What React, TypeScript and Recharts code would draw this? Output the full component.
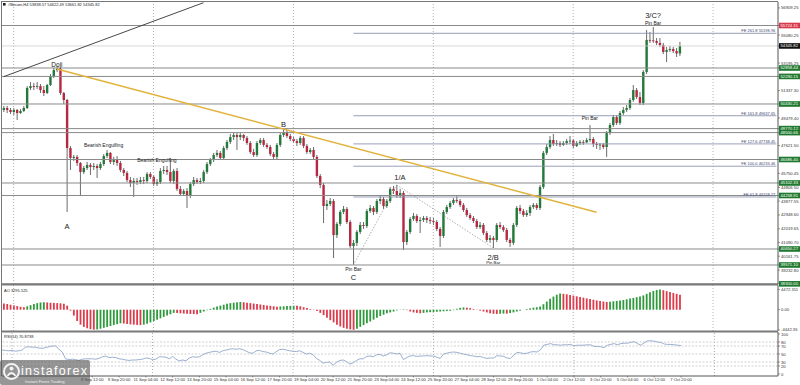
import React from 'react';
import { ComposedChart, Bar, Line, XAxis, YAxis, ReferenceLine, ReferenceDot, Cell } from 'recharts';

const FONT = "'Liberation Sans', Arial, sans-serif";

// ---------- price data (H4 candles) ----------
const opens = [50030,50160,50030,49890,50030,49820,49960,50160,51510,51640,51580,51640,51370,51170,51710,52320,52720,52790,51170,50700,
47460,46790,46860,46450,45840,46110,46320,46180,46250,46110,46380,46920,47130,46520,46650,46450,45980,45780,45300,45100,
45240,45170,45300,45240,45710,45510,45030,45170,45910,45980,45840,45240,45910,44700,44360,44560,44230,45030,45300,45170,
45240,45840,46380,46650,46990,47130,46790,47460,47870,48200,48340,48200,48340,48140,47800,47190,46990,47800,48000,47670,
47530,47060,46860,47670,48340,48540,48270,48070,47930,47800,48140,47600,47190,47330,46860,45570,44970,43550,43690,43890,
41590,42340,43150,43350,42470,40850,41060,41800,42270,42200,43210,43420,43150,43890,44020,43550,43890,44700,44560,44230,
44430,41120,41800,42670,42880,42540,42610,42740,42610,42540,42470,42000,41530,43150,43480,43750,43960,43890,43620,43280,
42940,42740,42540,42130,42270,41730,41260,41390,41260,42270,42130,41930,41260,41060,42270,43420,43210,42940,43080,43480,
43620,43420,44830,47130,47530,48000,47730,47800,47670,47800,47930,47960,47600,47800,47870,47840,48000,48070,47730,47670,
47690,47530,48470,49010,49550,49150,49820,50030,50160,50700,51370,50900,50500,52590,54750,54720,54680,54550,54410,53940,
54070,54140,54000,53838.57];
const highs = [50300,50300,50160,50160,50090,50090,50300,51640,51910,51850,51910,51780,51640,51780,52450,52860,52990,52860,51240,50770,
47600,46990,46990,46520,46250,46520,46450,46450,46380,46520,47060,47330,47190,46860,46920,46590,46110,45910,45510,45440,
45440,45510,45510,45840,45840,45640,45370,46110,46250,46250,46790,46050,46110,44900,44700,44760,45170,45510,45440,45440,
45980,46520,46790,47130,47330,47260,47600,48000,48410,48540,48470,48470,48410,48270,47930,47400,47930,48140,48140,47800,
47670,47190,47800,48470,48810,48680,48410,48200,48070,48270,48270,47730,47460,47530,46990,45710,45100,43960,44090,44020,
42470,43280,43550,43480,42610,41260,41930,42470,42470,43350,43620,43550,44020,44230,44160,44020,44830,44900,44970,44700,
44560,41930,42810,43080,43010,42810,42880,42880,42810,42740,42610,42130,43280,43620,43890,44090,44230,44020,43750,43420,
43080,42880,42670,42470,42400,41860,41590,41530,42400,42470,42270,42070,41390,42400,43550,43620,43350,43280,43620,43750,
43750,44970,47260,47730,48270,48410,48000,47930,47930,48070,48270,48070,47930,48000,48000,48140,49010,48200,47870,47800,
47800,48610,49150,49690,49690,49960,50230,50360,50840,51710,51510,51240,52720,55420,55290,55620,54880,54880,54550,54280,
54340,54280,54210,54622.49];
const lows = [49890,49820,49760,49690,49350,49760,49890,50090,51370,51370,51440,51170,50970,51100,51640,52180,52590,51040,50430,43150,
45980,46590,46250,44290,45710,45980,45640,45980,45440,45980,46250,46790,46380,46320,46250,45840,45570,45170,44830,44160,
44970,45030,45030,45100,45370,44900,44900,45030,45710,45640,45100,45030,44560,44230,44230,43420,44090,44900,45030,45030,
45100,45710,46250,46520,46860,46650,46650,47330,47730,48000,47330,48000,47930,47670,47060,46860,46860,47670,47530,47400,
46920,46650,46720,47530,48200,48140,47930,47800,47600,47670,47460,47060,47060,46720,45440,44760,42400,43280,43550,40040,
41390,42200,43010,42340,40720,39570,40850,41660,42000,42070,43080,42940,43010,43690,43350,43420,43750,44360,44090,44090,
40580,40920,41660,42540,42400,41730,42470,42400,42340,42270,41860,40790,41390,43010,43350,43620,43750,43480,43150,42810,
42610,42400,42000,42000,41590,41120,41060,40720,41120,42000,41800,41120,40790,40920,42130,43010,42810,42810,42880,43350,
43280,43280,44700,46990,47400,47600,47600,47530,47600,47670,47730,47460,47530,47670,47670,47800,47870,47530,47400,47330,
47400,46860,48340,48880,49010,49010,49690,49890,50030,50570,50770,50360,50360,52450,54550,54550,54410,54280,53800,53260,
53940,53870,53600,53661.82];
const closes = [50160,50030,49890,50030,49820,49960,50160,51510,51640,51580,51640,51370,51170,51710,52320,52720,52790,51170,50700,47460,
46790,46860,46450,45840,46110,46320,46180,46250,46110,46380,46920,47130,46520,46650,46450,45980,45780,45300,45100,45240,
45170,45300,45240,45710,45510,45030,45170,45910,45980,45840,45240,45910,44700,44360,44560,44230,45030,45300,45170,45240,
45840,46380,46650,46990,47130,46790,47460,47870,48200,48340,48200,48340,48140,47800,47190,46990,47800,48000,47670,47530,
47060,46860,47670,48340,48540,48270,48070,47930,47800,48140,47600,47190,47330,46860,45570,44970,43550,43690,43890,41590,
42340,43150,43350,42470,40850,41060,41800,42270,42200,43210,43420,43150,43890,44020,43550,43890,44700,44560,44230,44430,
41120,41800,42670,42880,42540,42610,42740,42610,42540,42470,42000,41530,43150,43480,43750,43960,43890,43620,43280,42940,
42740,42540,42130,42270,41730,41260,41390,41260,42270,42130,41930,41260,41060,42270,43420,43210,42940,43080,43480,43620,
43420,44830,47130,47530,48000,47730,47800,47670,47800,47930,47960,47600,47800,47870,47840,48000,48070,47730,47670,47690,
47530,48470,49010,49550,49150,49820,50030,50160,50700,51370,50900,50500,52590,54750,54720,54680,54550,54410,53940,54070,
54140,54000,53840,54345.82];

// ---------- indicator data ----------
const aoValues = [1350,1250,1100,950,800,650,550,
750,1000,1250,1450,1600,1650,
1600,1550,1500,1450,1400,1300,
900,-200,-1300,-2500,-3300,-3800,-4100,-4300,-4400,
-4350,-4200,-4000,-3800,-3600,-3400,-3200,-3000,
-3050,-3150,-3250,-3300,-3350,-3400,
-3300,-3100,-2800,-2500,-2200,-1900,-1600,-1300,-1000,-700,
-750,-800,-850,-900,-950,-980,-1000,
-700,-400,-100,
200,450,700,900,1100,1300,1450,1550,1650,1700,
1650,1550,1450,1350,1250,1150,1050,950,850,750,650,
700,750,800,850,900,
850,750,550,350,150,-50,
-300,-700,-1200,-1800,-2300,-2800,-3300,-3700,-4000,-4200,-4350,-4442.35,
-4200,-3800,-3400,-3000,-2600,-2200,-1800,-1400,-1100,-800,-600,-400,
-150,50,100,
-100,-400,-600,-700,-800,
-700,-600,-550,-500,-450,-400,-350,-300,-250,
-100,200,400,500,
450,350,150,-50,-200,
-400,-600,-800,-900,-950,
-900,-850,
-870,
-750,-600,-400,-200,
0,150,300,450,550,700,
1200,1800,2400,2900,3300,3550,
3500,3400,3250,3100,2950,2800,2650,2500,2350,2200,2050,1900,1800,1700,
1750,1850,1950,2050,2150,2300,2450,2600,2750,2900,3150,3500,3850,
4150,4350,4472.311,
4300,4100,3900,3700,3500,3295.525];

const rsiValues = [60,59,58,59,57,58,
60,67,68,67,67,65,64,66,68,70,
70,62,55,38,
36,37,36,34,37,38,38,38,37,39,
43,45,41,42,
41,38,37,35,34,35,35,36,37,40,39,
36,37,
43,43,42,38,44,37,
33,35,33,40,
43,42,43,48,52,54,56,57,54,
58,60,62,63,62,63,
61,57,53,52,58,59,56,
55,52,50,56,
61,62,60,58,57,
56,58,54,50,52,48,
39,34,27,29,30,22,
29,34,35,31,25,28,
34,38,38,44,45,43,48,49,45,48,53,52,
50,52,
36,
41,45,46,44,45,45,46,45,
45,42,39,
50,52,54,55,54,
52,50,48,46,45,43,
44,41,39,40,
40,46,45,44,40,
39,
47,54,53,51,52,55,
56,55,61,
72,74,76,73,73,72,73,73,
74,70,72,72,72,73,73,69,69,
68,66,
72,74,76,73,76,77,
77,79,81,
76,72,
78,83,83,82,80,79,75,74,74,73,72,70.8738];

// ---------- axes / labels ----------
const timeLabels = ['8 Sep 12:00','9 Sep 20:00','11 Sep 04:00','12 Sep 12:00',
'13 Sep 20:00','15 Sep 04:00','16 Sep 12:00','17 Sep 20:00','19 Sep 04:00','20 Sep 12:00','21 Sep 20:00','23 Sep 04:00',
'24 Sep 12:00','25 Sep 20:00','27 Sep 04:00','28 Sep 12:00','29 Sep 20:00','1 Oct 04:00','2 Oct 12:00','3 Oct 20:00',
'5 Oct 04:00','6 Oct 12:00','7 Oct 20:00'];
const timeLabelBars = [27,35,43,51,59,67,75,83,91,99,107,115,123,131,139,147,155,163,171,179,187,195,203];
const gridBars = [3,45,87,129,171,213];
const futureBars = 29;

const priceTicks = [56909.25,55080.25,53195.25,51337.30,49479.40,47621.50,45750.45,44806.50,43877.55,42948.60,42019.65,41090.70,40161.75,39232.80];
const priceDomain = [38289, 57310];
const redLevels = [55724.31];
const greenLevels = [52858.44,52290.15,50430.21,48770.12,48500.66,46686.40,45102.33,44258.91,40650.27,39571.10,38300.00];
const lastClose = 54345.82;
const feRatios = ['261.8','161.8','127.6','100.0','61.8'];
const feValues = [55198.96,49637.65,47738.45,46233.46,44158.77];
const feStartBar = 105;

const aoTicks = [4472.311, 0, -4442.35];
const aoTickLabels = ['4472.311','0.00','-4442.35'];
const aoDomain = [-4700, 5450];
const rsiTicks = [100,80,70,50,30,20,0];
const rsiLevels = [80,70,50,30,20];

const blackTrend = [{ bar: 0, price: 52275 }, { bar: 60, price: 57263 }];
const yellowTrend = [{ bar: 16, price: 52790 }, { bar: 178, price: 43130 }];
const waveDots = [{ bar: 105, price: 39570 }, { bar: 118, price: 44970 }, { bar: 147, price: 40720 }];

const annotations = [
  { text: 'Doji', bar: 16, price: 53060, kind: 'mid' },
  { text: 'A', bar: 19, price: 42150, kind: 'wave' },
  { text: 'Bearish Engulfing', bar: 30, price: 47620, kind: 'pattern' },
  { text: 'Bearish Engulfing', bar: 46, price: 46650, kind: 'pattern' },
  { text: 'B', bar: 84, price: 49080, kind: 'wave' },
  { text: '1/A', bar: 119, price: 45470, kind: 'wave' },
  { text: 'Pin Bar', bar: 105, price: 39300, kind: 'pattern' },
  { text: 'C', bar: 105, price: 38730, kind: 'wave' },
  { text: '2/B', bar: 147, price: 40110, kind: 'wave' },
  { text: 'Pin Bar', bar: 147, price: 39725, kind: 'tiny' },
  { text: 'Pin Bar', bar: 176, price: 49440, kind: 'pattern' },
  { text: '3/C?', bar: 195, price: 56430, kind: 'wave' },
  { text: 'Pin Bar', bar: 195, price: 55890, kind: 'pattern' },
];
const annoSize: Record<string, number> = { wave: 7.5, mid: 6.5, pattern: 5, tiny: 4.3 };

// ---------- rows ----------
const rows = Array.from({ length: opens.length + futureBars }, (_, i) => {
  if (i >= opens.length) return { i, open: null, high: null, low: null, close: null, range: null, ao: null, rsi: null };
  return {
    i, open: opens[i], high: highs[i], low: lows[i], close: closes[i],
    range: [lows[i], highs[i]], ao: aoValues[i], rsi: rsiValues[i],
  };
});

const C_GREEN = '#23793a';
const C_RED = '#b5283f';
const AO_GREEN = '#2f9a3c';
const AO_RED = '#dc3b4b';

const Candle = (props: any) => {
  const { x, y, width, height, payload } = props;
  if (!payload || payload.open == null || y == null || height == null) return null;
  const top = Math.min(y, y + height);
  const h = Math.abs(height);
  const { open, close, high, low } = payload;
  const span = high - low || 1;
  const toY = (v: number) => top + ((high - v) / span) * h;
  const cx = x + width / 2;
  const up = close >= open;
  const bTop = toY(Math.max(open, close));
  const bBot = toY(Math.min(open, close));
  const fill = up ? C_GREEN : C_RED;
  return (
    <g>
      <line x1={cx} x2={cx} y1={top} y2={top + h} stroke="#454545" strokeWidth={0.8} />
      <rect x={cx - 1.2} y={bTop} width={2.4} height={Math.max(0.8, bBot - bTop)} fill={fill} />
    </g>
  );
};

const PriceTick = (props: any) => {
  const { x, y, payload } = props;
  const v = payload.value;
  let bg: string | null = null;
  if (redLevels.includes(v)) bg = '#d8384b';
  else if (greenLevels.includes(v)) bg = '#1f7a30';
  else if (v === lastClose) bg = '#111111';
  if (bg) {
    return (
      <g>
        <rect x={x - 2} y={y - 2.8} width={21} height={5.6} fill={bg} />
        <text x={x - 0.5} y={y + 1.5} fontSize={4.2} fill="#ffffff" fontFamily={FONT}>{v.toFixed(2)}</text>
      </g>
    );
  }
  return <text x={x} y={y + 1.5} fontSize={4.2} fill="#333" fontFamily={FONT}>{v.toFixed(2)}</text>;
};

const SmallTick = (labels?: (v: number) => string) => (props: any) => {
  const { x, y, payload } = props;
  const t = labels ? labels(payload.value) : String(payload.value);
  return <text x={x} y={y + 1.5} fontSize={4.2} fill="#333" fontFamily={FONT}>{t}</text>;
};

const TimeTick = (props: any) => {
  const { x, y, payload } = props;
  const k = timeLabelBars.indexOf(payload.value);
  return <text x={x} y={y + 3.5} fontSize={4.2} fill="#333" textAnchor="middle" fontFamily={FONT}>{k >= 0 ? timeLabels[k] : ''}</text>;
};

const grid = (prefix: string) =>
  gridBars.map((g) => <ReferenceLine key={prefix + g} x={g} stroke="#9c9c9c" strokeDasharray="1 2" strokeWidth={0.8} />);

export default function App() {
  return (
    <div style={{ position: 'absolute', left: 0, top: 0, width: 800, height: 385, background: '#fff', overflow: 'hidden' }}>
      {/* main price panel */}
      <div style={{ position: 'absolute', left: 0, top: 0 }}>
        <ComposedChart width={800} height={292} data={rows} margin={{ top: 2, right: 0, bottom: 8, left: 2 }}>
          <XAxis dataKey="i" hide />
          <YAxis orientation="right" width={22} type="number" domain={priceDomain} allowDataOverflow
            ticks={[...priceTicks, lastClose, ...greenLevels, ...redLevels]} interval={0}
            tick={(p: any) => <PriceTick {...p} />} tickSize={2} tickMargin={1}
            axisLine={{ stroke: '#555' }} tickLine={{ stroke: '#555', strokeWidth: 0.6 }} />
          {grid('m')}
          <ReferenceLine y={lastClose} stroke="#cfcfcf" strokeWidth={0.8} />
          {[...redLevels, ...greenLevels].map((v) => (
            <ReferenceLine key={'l' + v} y={v} stroke="#8a8a8a" strokeWidth={1} />
          ))}
          {feValues.map((v, k) => (
            <ReferenceLine key={'fe' + v} segment={[{ x: feStartBar, y: v }, { x: rows.length - 1, y: v }]}
              stroke="#8d93b0" strokeWidth={0.9}
              label={{ value: `FE ${feRatios[k]} ${v.toFixed(2)}`, position: 'insideBottomRight', offset: 1, fontSize: 4, fill: '#3d4470', fontFamily: FONT }} />
          ))}
          <ReferenceLine segment={blackTrend.map((p) => ({ x: p.bar, y: p.price }))} stroke="#333" strokeWidth={0.9} ifOverflow="hidden" />
          <ReferenceLine segment={yellowTrend.map((p) => ({ x: p.bar, y: p.price }))} stroke="#e2b33a" strokeWidth={1.5} />
          <ReferenceLine segment={[waveDots[0], waveDots[1]].map((p) => ({ x: p.bar, y: p.price }))} stroke="#9a9a9a" strokeDasharray="1.5 1.5" strokeWidth={0.8} />
          <ReferenceLine segment={[waveDots[1], waveDots[2]].map((p) => ({ x: p.bar, y: p.price }))} stroke="#9a9a9a" strokeDasharray="1.5 1.5" strokeWidth={0.8} />
          <Bar dataKey="range" isAnimationActive={false} shape={(p: any) => <Candle {...p} />} />
          {annotations.map((a, k) => (
            <ReferenceDot key={'a' + k} x={a.bar} y={a.price} r={0.01} fill="none" stroke="none"
              label={{ value: a.text, position: 'center', fontSize: annoSize[a.kind], fill: '#222', fontFamily: FONT }} />
          ))}
        </ComposedChart>
      </div>

      {/* AO panel */}
      <div style={{ position: 'absolute', left: 0, top: 283 }}>
        <ComposedChart width={800} height={50} data={rows} margin={{ top: 2, right: 0, bottom: 2, left: 2 }} barCategoryGap={0}>
          <XAxis dataKey="i" hide />
          <YAxis orientation="right" width={22} type="number" domain={aoDomain} allowDataOverflow ticks={aoTicks} interval={0}
            tick={SmallTick((v) => aoTickLabels[aoTicks.indexOf(v)])} tickSize={2} tickMargin={1}
            axisLine={{ stroke: '#555' }} tickLine={{ stroke: '#555', strokeWidth: 0.6 }} />
          {grid('a')}
          <Bar dataKey="ao" isAnimationActive={false} barSize={1.8}>
            {rows.map((r, k) => (
              <Cell key={k} fill={k > 0 && r.ao != null && rows[k - 1].ao != null && (r.ao as number) > (rows[k - 1].ao as number) ? AO_GREEN : AO_RED} />
            ))}
          </Bar>
        </ComposedChart>
      </div>

      {/* RSI panel */}
      <div style={{ position: 'absolute', left: 0, top: 330 }}>
        <ComposedChart width={800} height={55} data={rows} margin={{ top: 2, right: 0, bottom: 0, left: 2 }}>
          <XAxis dataKey="i" ticks={timeLabelBars} interval={0} height={9} tick={(p: any) => <TimeTick {...p} />}
            tickSize={1.5} tickMargin={0} axisLine={{ stroke: '#555' }} tickLine={{ stroke: '#555', strokeWidth: 0.6 }} />
          <YAxis orientation="right" width={22} type="number" domain={[-5, 105]} allowDataOverflow ticks={rsiTicks} interval={0}
            tick={SmallTick()} tickSize={2} tickMargin={1}
            axisLine={{ stroke: '#555' }} tickLine={{ stroke: '#555', strokeWidth: 0.6 }} />
          {grid('r')}
          {rsiLevels.map((v) => (
            <ReferenceLine key={'rl' + v} y={v} stroke="#c4c4c4" strokeDasharray="2 1.5" strokeWidth={0.8} />
          ))}
          <Line dataKey="rsi" type="linear" stroke="#8ea7c9" strokeWidth={0.9} dot={false} isAnimationActive={false} />
        </ComposedChart>
      </div>

      {/* frames, headers, watermark */}
      <svg width={800} height={385} style={{ position: 'absolute', left: 0, top: 0, pointerEvents: 'none' }}>
        <line x1={1.5} y1={1} x2={1.5} y2={376} stroke="#777" strokeWidth={1} />
        <line x1={1} y1={1.5} x2={778} y2={1.5} stroke="#777" strokeWidth={1} />
        <line x1={1} y1={284.5} x2={778} y2={284.5} stroke="#7a7a7a" strokeWidth={2} />
        <line x1={1} y1={331.5} x2={778} y2={331.5} stroke="#7a7a7a" strokeWidth={2} />
        <rect x={3} y={3} width={2.6} height={2.6} fill="#222" />
        <text x={8} y={6.2} fontSize={4} fill="#222" fontFamily={FONT}>#Bitcoin,H4  53838.57  54622.49  53661.82  54345.82</text>
        <text x={4} y={291.5} fontSize={4} fill="#222" fontFamily={FONT}>AO 3295.525</text>
        <text x={4} y={337.5} fontSize={4} fill="#222" fontFamily={FONT}>RSI(14) 70.8738</text>
        <g>
          <rect x={0} y={360} width={90} height={25} rx={2} fill="rgba(85,85,85,0.62)" />
          <circle cx={11.5} cy={371.5} r={7.5} fill="none" stroke="#f2f2f2" strokeWidth={2} />
          <circle cx={11.5} cy={368.5} r={2} fill="#f2f2f2" />
          <path d="M7.5 376 Q11.5 370 15.5 376" stroke="#f2f2f2" strokeWidth={1.8} fill="none" />
          <text x={21} y={374.5} fontSize={12.5} fill="#ffffff" fontFamily={FONT} textLength={66}>instaforex</text>
          <text x={25} y={383.4} fontSize={4.2} fill="#eeeeee" fontFamily={FONT}>Instant Forex Trading</text>
        </g>
      </svg>
    </div>
  );
}
